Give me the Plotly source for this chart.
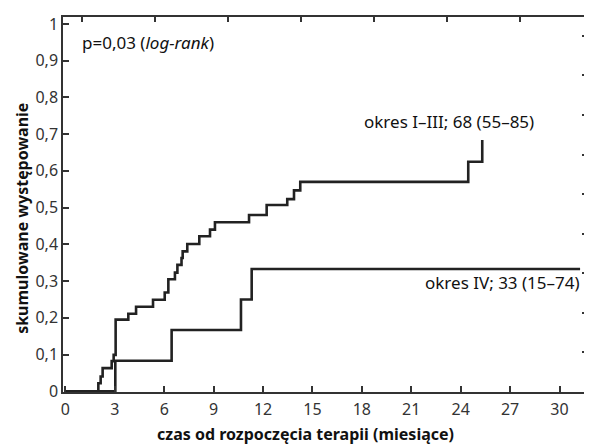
import plotly.graph_objects as go

# Data (months, cumulative incidence)
period13_months = [0, 2.00, 2.14, 2.26, 2.81, 2.93, 3.05, 3.82, 4.29, 5.32, 6.03, 6.25, 6.65,
                   6.80, 7.05, 7.12, 7.40, 8.13, 8.78, 9.08, 11.15, 12.22, 13.47, 13.88,
                   14.26, 24.46, 25.31]
period13_values = [0, 0.022, 0.040, 0.063, 0.082, 0.099, 0.195, 0.211, 0.230, 0.249, 0.269,
                   0.305, 0.323, 0.344, 0.363, 0.381, 0.401, 0.422, 0.440, 0.460, 0.480,
                   0.507, 0.523, 0.547, 0.570, 0.625, 0.684]
period4_months = [0, 3.03, 6.45, 10.66, 11.31, 31.25]
period4_values = [0, 0.083, 0.167, 0.250, 0.333, 0.333]

x_ticks = [0, 3, 6, 9, 12, 15, 18, 21, 24, 27, 30]
y_ticks = [0, 0.1, 0.2, 0.3, 0.4, 0.5, 0.6, 0.7, 0.8, 0.9, 1]
y_tick_labels = ["0", "0,1", "0,2", "0,3", "0,4", "0,5", "0,6", "0,7", "0,8", "0,9", "1"]

label13 = "okres I–III; 68 (55–85)"
label4 = "okres IV; 33 (15–74)"
p_text = "p=0,03 (<i>log-rank</i>)"
x_title = "czas od rozpoczęcia terapii (miesiące)"
y_title = "skumulowane występowanie"

FONT = "Noto Sans"
LINE = "#222222"
AX = "#333333"
TXT = "#111111"

# page body has an 8px default margin; plot area is kept at page px 63..587 x 13..392
BODY = 8
W, H = 592 - BODY, 445 - BODY
plot_l, plot_r, plot_t, plot_b = 63, 587, 13, 392


def px_x(px):
    return (px - plot_l) / (plot_r - plot_l)


def px_y(py):
    return (plot_b - py) / (plot_b - plot_t)


fig = go.Figure()
fig.add_trace(go.Scatter(x=period13_months, y=period13_values, mode="lines",
                         line=dict(shape="hv", color=LINE, width=2.6), showlegend=False))
fig.add_trace(go.Scatter(x=period4_months, y=period4_values, mode="lines",
                         line=dict(shape="hv", color=LINE, width=2.6), showlegend=False))
# invisible trace anchoring the frame axes (top / right)
fig.add_trace(go.Scatter(x=[0], y=[0], xaxis="x2", yaxis="y2", mode="markers",
                         marker=dict(opacity=0), showlegend=False, hoverinfo="skip"))

fig.update_layout(
    width=W, height=H,
    margin=dict(l=plot_l - BODY, r=BODY + W - plot_r, t=plot_t - BODY, b=BODY + H - plot_b),
    paper_bgcolor="white", plot_bgcolor="white",
    font=dict(family=FONT, size=16, color="#333333"),
    xaxis=dict(range=[-0.146, 31.67], tickvals=x_ticks, ticks="inside", ticklen=6,
               tickwidth=1.5, tickcolor=AX, showline=True, linecolor=AX, linewidth=1.5,
               showgrid=False, zeroline=False, ticklabelstandoff=2,
               tickfont=dict(size=16, color="#333333")),
    yaxis=dict(range=[-0.002, 1.019], tickvals=y_ticks, ticktext=y_tick_labels,
               ticks="inside", ticklen=6, tickwidth=1.5, tickcolor=AX, showline=True,
               linecolor=AX, linewidth=1.5, showgrid=False, zeroline=False,
               tickfont=dict(size=16, color="#333333")),
    xaxis2=dict(overlaying="x", side="top", anchor="y", range=[-0.261, 6.92], dtick=1,
                tick0=0, ticks="inside", ticklen=5, tickwidth=1.5, tickcolor=AX,
                showline=True, linecolor=AX, linewidth=1.5, showticklabels=False,
                showgrid=False, zeroline=False),
    yaxis2=dict(overlaying="y", side="right", anchor="x", range=[0, 9.475], dtick=1,
                tick0=0, ticks="inside", ticklen=5, tickwidth=1.5, tickcolor=AX,
                showline=True, linecolor=AX, linewidth=1.5, showticklabels=False,
                showgrid=False, zeroline=False),
    annotations=[
        dict(text=p_text, x=0.9, y=0.95, xref="x", yref="y", xanchor="left",
             yanchor="middle", showarrow=False, font=dict(size=17, color=TXT)),
        dict(text=label13, x=28.55, y=0.735, xref="x", yref="y", xanchor="right",
             yanchor="middle", showarrow=False, font=dict(size=17, color=TXT)),
        dict(text=label4, x=31.35, y=0.296, xref="x", yref="y", xanchor="right",
             yanchor="middle", showarrow=False, font=dict(size=17, color=TXT)),
        dict(text="<b>" + x_title + "</b>", x=px_x(305), y=px_y(434), xref="paper",
             yref="paper", xanchor="center", yanchor="middle", showarrow=False,
             font=dict(size=16, color=TXT)),
        dict(text="<b>" + y_title + "</b>", x=px_x(22), y=px_y(217), textangle=-90,
             xref="paper", yref="paper", xanchor="center", yanchor="middle",
             showarrow=False, font=dict(size=16, color=TXT)),
    ],
)

fig.write_html("out.html")
